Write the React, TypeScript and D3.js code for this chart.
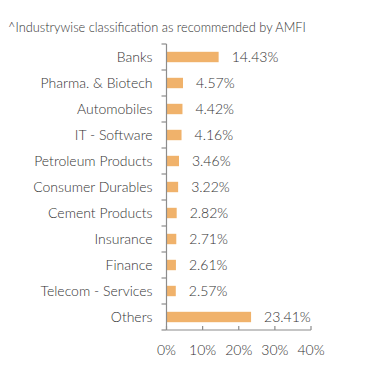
import React from "react";
import * as d3 from "d3";

const categories = [
  "Banks",
  "Pharma. & Biotech",
  "Automobiles",
  "IT - Software",
  "Petroleum Products",
  "Consumer Durables",
  "Cement Products",
  "Insurance",
  "Finance",
  "Telecom - Services",
  "Others",
];
const values = [14.43, 4.57, 4.42, 4.16, 3.46, 3.22, 2.82, 2.71, 2.61, 2.57, 23.41];
const xTicks = [0, 10, 20, 30, 40];
const title = "^Industrywise classification as recommended by AMFI";

export default function App() {
  const W = 391;
  const H = 382;
  const left = 166.5;
  const right = 311;
  const top = 44;
  const bottom = 330;
  const x = d3.scaleLinear().domain([0, 40]).range([left, right]);
  const y = d3.scaleBand().domain(categories).range([top, bottom]).paddingInner(0.6).paddingOuter(0.3);
  const bandStep = (bottom - top) / categories.length;
  const font = "Lato, 'Open Sans', sans-serif";
  const axisColor = "#8c8c8c";
  const textColor = "#333";
  return (
    <svg width={W} height={H} style={{ position: "absolute", left: 0, top: 0 }} fontFamily={font}>
      <rect width={W} height={H} fill="#fff" />
      <text x={8} y={32} fontSize={12.8} fill={textColor} fontWeight={300}>
        {title}
      </text>
      {categories.map((c, i) => (
        <g key={c}>
          <rect
            x={x(0)}
            y={y(c)!}
            width={x(values[i]) - x(0)}
            height={y.bandwidth()}
            fill="#f0b26b"
          />
          <text
            x={x(values[i]) + 13}
            y={y(c)! + y.bandwidth() / 2}
            dy="0.36em"
            fontSize={14}
            fill={textColor}
            fontWeight={300}
          >
            {values[i].toFixed(2)}%
          </text>
          <text
            x={left - 14}
            y={y(c)! + y.bandwidth() / 2}
            dy="0.36em"
            textAnchor="end"
            fontSize={14}
            fill={textColor}
            fontWeight={300}
          >
            {c}
          </text>
        </g>
      ))}
      <line x1={left} x2={left} y1={top} y2={bottom} stroke={axisColor} strokeWidth={1.2} />
      {d3.range(categories.length + 1).map((k) => (
        <line
          key={k}
          x1={left - 5}
          x2={left}
          y1={top + k * bandStep}
          y2={top + k * bandStep}
          stroke={axisColor}
          strokeWidth={1.2}
        />
      ))}
      <line x1={left} x2={right} y1={bottom} y2={bottom} stroke={axisColor} strokeWidth={1.2} />
      {xTicks.map((t) => (
        <g key={t}>
          <line x1={x(t)} x2={x(t)} y1={bottom} y2={bottom - 4} stroke={axisColor} strokeWidth={1.2} />
          <text x={x(t)} y={355} textAnchor="middle" fontSize={14} fill={textColor} fontWeight={300}>
            {t}%
          </text>
        </g>
      ))}
    </svg>
  );
}
